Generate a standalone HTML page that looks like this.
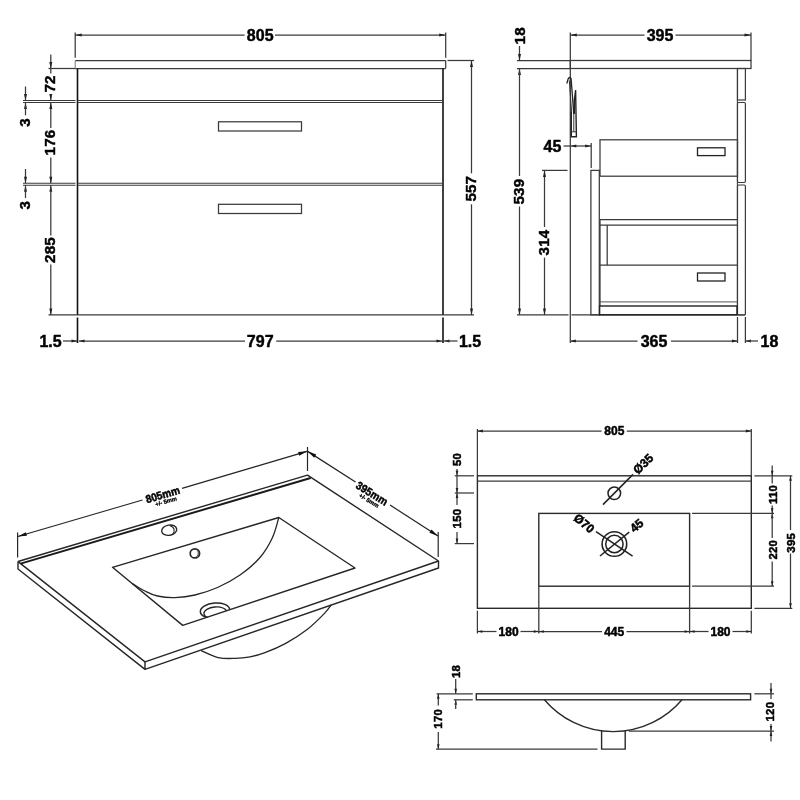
<!DOCTYPE html>
<html><head><meta charset="utf-8"><title>Vanity unit technical drawing</title>
<style>
html,body{margin:0;padding:0;background:#fff;}
svg{display:block;font-family:"Liberation Sans",sans-serif;fill:#000;}
</style></head><body>
<svg width="800" height="800" viewBox="0 0 800 800">
<rect width="800" height="800" fill="#fff"/>
<g id="front-side" opacity="0.999">
<line x1="75.2" y1="32.5" x2="75.2" y2="57.8" stroke="#3a3a3a" stroke-width="1.25"/>
<line x1="445.7" y1="32.5" x2="445.7" y2="57.8" stroke="#3a3a3a" stroke-width="1.25"/>
<line x1="75.2" y1="35" x2="244.6" y2="35" stroke="#3a3a3a" stroke-width="1.25"/>
<line x1="275" y1="35" x2="445.7" y2="35" stroke="#3a3a3a" stroke-width="1.25"/>
<polygon points="75.20,35.00 81.70,33.50 81.70,36.50" fill="#222"/>
<polygon points="445.70,35.00 439.20,36.50 439.20,33.50" fill="#222"/>
<text x="260.2" y="35" font-size="16" text-anchor="middle" dominant-baseline="central" font-weight="bold" stroke="#000" stroke-width="0.45">805</text>
<line x1="75.2" y1="60.5" x2="445.7" y2="60.5" stroke="#3a3a3a" stroke-width="1.25"/>
<line x1="75.2" y1="68.5" x2="445.7" y2="68.5" stroke="#3a3a3a" stroke-width="1.25"/>
<line x1="75.2" y1="60.5" x2="75.2" y2="68.5" stroke="#777" stroke-width="1"/>
<line x1="445.7" y1="60.5" x2="445.7" y2="68.5" stroke="#3a3a3a" stroke-width="1.25"/>
<line x1="77.5" y1="68.5" x2="77.5" y2="315" stroke="#111" stroke-width="1.6"/>
<line x1="443" y1="68.5" x2="443" y2="315" stroke="#111" stroke-width="1.6"/>
<line x1="77.5" y1="317.5" x2="77.5" y2="343" stroke="#111" stroke-width="1.6"/>
<line x1="443" y1="317.5" x2="443" y2="343" stroke="#111" stroke-width="1.6"/>
<line x1="48.5" y1="314.8" x2="474" y2="314.8" stroke="#3a3a3a" stroke-width="1.25"/>
<line x1="23" y1="100.5" x2="75.5" y2="100.5" stroke="#3a3a3a" stroke-width="1.1"/>
<line x1="77.5" y1="100.5" x2="443" y2="100.5" stroke="#3a3a3a" stroke-width="1.1"/>
<line x1="23" y1="102.5" x2="75.5" y2="102.5" stroke="#3a3a3a" stroke-width="1.1"/>
<line x1="77.5" y1="102.5" x2="443" y2="102.5" stroke="#3a3a3a" stroke-width="1.1"/>
<line x1="23" y1="183.2" x2="75.5" y2="183.2" stroke="#3a3a3a" stroke-width="1.1"/>
<line x1="77.5" y1="183.2" x2="443" y2="183.2" stroke="#3a3a3a" stroke-width="1.1"/>
<line x1="23" y1="185.2" x2="75.5" y2="185.2" stroke="#3a3a3a" stroke-width="1.1"/>
<line x1="77.5" y1="185.2" x2="443" y2="185.2" stroke="#3a3a3a" stroke-width="1.1"/>
<rect x="218.5" y="121.8" width="83" height="9.2" rx="0" fill="none" stroke="#3a3a3a" stroke-width="1.25"/>
<rect x="218.5" y="204.3" width="83" height="9.2" rx="0" fill="none" stroke="#3a3a3a" stroke-width="1.25"/>
<line x1="48.5" y1="68.5" x2="75.2" y2="68.5" stroke="#3a3a3a" stroke-width="1.25"/>
<line x1="50.8" y1="54.5" x2="50.8" y2="68.5" stroke="#3a3a3a" stroke-width="1.25"/>
<polygon points="50.80,68.50 49.30,62.00 52.30,62.00" fill="#222"/>
<line x1="50.8" y1="68.5" x2="50.8" y2="73.5" stroke="#3a3a3a" stroke-width="1.25"/>
<line x1="50.8" y1="94.5" x2="50.8" y2="100.5" stroke="#3a3a3a" stroke-width="1.25"/>
<text x="49.6" y="84" font-size="15.2" text-anchor="middle" dominant-baseline="central" font-weight="bold" stroke="#000" stroke-width="0.45" transform="rotate(-90 49.6 84)" letter-spacing="0.15">72</text>
<polygon points="50.80,100.50 49.30,94.00 52.30,94.00" fill="#222"/>
<line x1="50.8" y1="102.5" x2="50.8" y2="128" stroke="#3a3a3a" stroke-width="1.25"/>
<polygon points="50.80,102.50 52.30,109.00 49.30,109.00" fill="#222"/>
<line x1="50.8" y1="157.5" x2="50.8" y2="183.2" stroke="#3a3a3a" stroke-width="1.25"/>
<polygon points="50.80,183.20 49.30,176.70 52.30,176.70" fill="#222"/>
<text x="49.6" y="142.5" font-size="15.2" text-anchor="middle" dominant-baseline="central" font-weight="bold" stroke="#000" stroke-width="0.45" transform="rotate(-90 49.6 142.5)" letter-spacing="0.15">176</text>
<polygon points="50.80,185.20 52.30,191.70 49.30,191.70" fill="#222"/>
<line x1="50.8" y1="185.2" x2="50.8" y2="235.5" stroke="#3a3a3a" stroke-width="1.25"/>
<line x1="50.8" y1="264.5" x2="50.8" y2="315" stroke="#3a3a3a" stroke-width="1.25"/>
<polygon points="50.80,315.00 49.30,308.50 52.30,308.50" fill="#222"/>
<text x="49.6" y="250" font-size="15.2" text-anchor="middle" dominant-baseline="central" font-weight="bold" stroke="#000" stroke-width="0.45" transform="rotate(-90 49.6 250)" letter-spacing="0.15">285</text>
<line x1="25.5" y1="86.5" x2="25.5" y2="100.5" stroke="#3a3a3a" stroke-width="1.25"/>
<polygon points="25.50,100.50 24.00,94.00 27.00,94.00" fill="#222"/>
<polygon points="25.50,102.50 27.00,109.00 24.00,109.00" fill="#222"/>
<line x1="25.5" y1="102.5" x2="25.5" y2="115.3" stroke="#3a3a3a" stroke-width="1.25"/>
<text x="24.8" y="122.5" font-size="15.2" text-anchor="middle" dominant-baseline="central" font-weight="bold" stroke="#000" stroke-width="0.45" transform="rotate(-90 24.8 122.5)" letter-spacing="0.15">3</text>
<line x1="25.5" y1="169" x2="25.5" y2="183.2" stroke="#3a3a3a" stroke-width="1.25"/>
<polygon points="25.50,183.20 24.00,176.70 27.00,176.70" fill="#222"/>
<polygon points="25.50,185.20 27.00,191.70 24.00,191.70" fill="#222"/>
<line x1="25.5" y1="185.2" x2="25.5" y2="198" stroke="#3a3a3a" stroke-width="1.25"/>
<text x="24.8" y="205.3" font-size="15.2" text-anchor="middle" dominant-baseline="central" font-weight="bold" stroke="#000" stroke-width="0.45" transform="rotate(-90 24.8 205.3)" letter-spacing="0.15">3</text>
<text x="50.5" y="341" font-size="16" text-anchor="middle" dominant-baseline="central" font-weight="bold" stroke="#000" stroke-width="0.45">1.5</text>
<line x1="63" y1="341" x2="77" y2="341" stroke="#3a3a3a" stroke-width="1.25"/>
<polygon points="77.00,341.00 71.50,342.50 71.50,339.50" fill="#222"/>
<line x1="79" y1="341" x2="245" y2="341" stroke="#3a3a3a" stroke-width="1.25"/>
<polygon points="79.00,341.00 84.50,339.50 84.50,342.50" fill="#222"/>
<line x1="276.2" y1="341" x2="442" y2="341" stroke="#3a3a3a" stroke-width="1.25"/>
<polygon points="442.00,341.00 436.50,342.50 436.50,339.50" fill="#222"/>
<text x="260.2" y="341" font-size="16" text-anchor="middle" dominant-baseline="central" font-weight="bold" stroke="#000" stroke-width="0.45">797</text>
<polygon points="444.00,341.00 449.50,339.50 449.50,342.50" fill="#222"/>
<line x1="444" y1="341" x2="457.5" y2="341" stroke="#3a3a3a" stroke-width="1.25"/>
<text x="470" y="341" font-size="16" text-anchor="middle" dominant-baseline="central" font-weight="bold" stroke="#000" stroke-width="0.45">1.5</text>
<line x1="447.5" y1="60.5" x2="474" y2="60.5" stroke="#3a3a3a" stroke-width="1.25"/>
<line x1="471.5" y1="60.5" x2="471.5" y2="173.3" stroke="#3a3a3a" stroke-width="1.25"/>
<line x1="471.5" y1="204.3" x2="471.5" y2="315" stroke="#3a3a3a" stroke-width="1.25"/>
<polygon points="471.50,60.50 473.00,67.00 470.00,67.00" fill="#222"/>
<polygon points="471.50,315.00 470.00,308.50 473.00,308.50" fill="#222"/>
<text x="470.8" y="188.7" font-size="15.2" text-anchor="middle" dominant-baseline="central" font-weight="bold" stroke="#000" stroke-width="0.45" transform="rotate(-90 470.8 188.7)" letter-spacing="0.15">557</text>
<line x1="570.3" y1="32.5" x2="570.3" y2="343" stroke="#3a3a3a" stroke-width="1.25"/>
<line x1="751" y1="32.5" x2="751" y2="60.5" stroke="#3a3a3a" stroke-width="1.25"/>
<line x1="570.3" y1="35" x2="644.5" y2="35" stroke="#3a3a3a" stroke-width="1.25"/>
<line x1="675.5" y1="35" x2="751" y2="35" stroke="#3a3a3a" stroke-width="1.25"/>
<polygon points="570.30,35.00 576.80,33.50 576.80,36.50" fill="#222"/>
<polygon points="751.00,35.00 744.50,36.50 744.50,33.50" fill="#222"/>
<text x="660" y="35" font-size="16" text-anchor="middle" dominant-baseline="central" font-weight="bold" stroke="#000" stroke-width="0.45">395</text>
<rect x="570.3" y="60.5" width="180.7" height="8" rx="0" fill="none" stroke="#3a3a3a" stroke-width="1.25"/>
<line x1="517" y1="60.5" x2="570.3" y2="60.5" stroke="#3a3a3a" stroke-width="1.25"/>
<line x1="517" y1="68.5" x2="570.3" y2="68.5" stroke="#3a3a3a" stroke-width="1.25"/>
<text x="519.1" y="35.8" font-size="15.2" text-anchor="middle" dominant-baseline="central" font-weight="bold" stroke="#000" stroke-width="0.45" transform="rotate(-90 519.1 35.8)" letter-spacing="0.15">18</text>
<line x1="519.5" y1="46" x2="519.5" y2="60.5" stroke="#3a3a3a" stroke-width="1.25"/>
<polygon points="519.50,60.50 518.00,54.00 521.00,54.00" fill="#222"/>
<polygon points="519.50,68.50 521.00,75.00 518.00,75.00" fill="#222"/>
<line x1="519.5" y1="68.5" x2="519.5" y2="176" stroke="#3a3a3a" stroke-width="1.25"/>
<line x1="519.5" y1="206.5" x2="519.5" y2="315" stroke="#3a3a3a" stroke-width="1.25"/>
<polygon points="519.50,315.00 518.00,308.50 521.00,308.50" fill="#222"/>
<text x="518.8" y="191.6" font-size="15.2" text-anchor="middle" dominant-baseline="central" font-weight="bold" stroke="#000" stroke-width="0.45" transform="rotate(-90 518.8 191.6)" letter-spacing="0.15">539</text>
<line x1="517" y1="314.8" x2="568.5" y2="314.8" stroke="#3a3a3a" stroke-width="1.25"/>
<line x1="571.5" y1="314.8" x2="745.4" y2="314.8" stroke="#3a3a3a" stroke-width="1.25"/>
<line x1="542" y1="170.4" x2="567.5" y2="170.4" stroke="#3a3a3a" stroke-width="1.25"/>
<line x1="544.5" y1="170.4" x2="544.5" y2="227" stroke="#3a3a3a" stroke-width="1.25"/>
<line x1="544.5" y1="257.6" x2="544.5" y2="315" stroke="#3a3a3a" stroke-width="1.25"/>
<polygon points="544.50,170.40 546.00,176.90 543.00,176.90" fill="#222"/>
<polygon points="544.50,315.00 543.00,308.50 546.00,308.50" fill="#222"/>
<text x="543.8" y="242.5" font-size="15.2" text-anchor="middle" dominant-baseline="central" font-weight="bold" stroke="#000" stroke-width="0.45" transform="rotate(-90 543.8 242.5)" letter-spacing="0.15">314</text>
<text x="552.5" y="146.3" font-size="16" text-anchor="middle" dominant-baseline="central" font-weight="bold" stroke="#000" stroke-width="0.45">45</text>
<line x1="563.5" y1="146" x2="591.2" y2="146" stroke="#3a3a3a" stroke-width="1.25"/>
<polygon points="570.80,146.00 576.30,144.50 576.30,147.50" fill="#222"/>
<polygon points="590.70,146.00 585.20,147.50 585.20,144.50" fill="#222"/>
<line x1="591.2" y1="143" x2="591.2" y2="168" stroke="#3a3a3a" stroke-width="1.25"/>
<path d="M566.8,83.5 L568.2,78.8 Q569.6,76.3 571.1,78.6 L573.8,114" fill="none" stroke="#222" stroke-width="1.3"/>
<path d="M569.3,80.5 L571.6,112" fill="none" stroke="#333" stroke-width="1"/>
<path d="M575.6,90 L574.3,101 L574.3,114 M575.6,90 L576.4,136.8 L571.3,136.8 L571.3,112" fill="none" stroke="#222" stroke-width="1.4"/>
<path d="M573.8,114 L573.8,131.5 M571.3,131.8 L576.3,131.8" fill="none" stroke="#333" stroke-width="1"/>
<rect x="590.9" y="170.4" width="8.4" height="144.4" rx="0" fill="none" stroke="#3a3a3a" stroke-width="1.25"/>
<line x1="737.4" y1="68.5" x2="737.4" y2="314.8" stroke="#3a3a3a" stroke-width="1.1"/>
<rect x="737.5" y="68.5" width="7.9" height="31.5" rx="0" fill="none" stroke="#3a3a3a" stroke-width="1.2"/>
<rect x="737.5" y="102.5" width="7.9" height="80" rx="1.2" fill="none" stroke="#3a3a3a" stroke-width="1.2"/>
<rect x="737.5" y="185" width="7.9" height="130" rx="1.2" fill="none" stroke="#3a3a3a" stroke-width="1.2"/>
<rect x="600" y="139.8" width="137.5" height="36.4" rx="0" fill="none" stroke="#3a3a3a" stroke-width="1.25"/>
<rect x="697.5" y="147.8" width="27.5" height="7.8" rx="0" fill="none" stroke="#222" stroke-width="1.3"/>
<line x1="600" y1="219.5" x2="737.5" y2="219.5" stroke="#3a3a3a" stroke-width="1.25"/>
<line x1="600" y1="225" x2="737.5" y2="225" stroke="#3a3a3a" stroke-width="1.25"/>
<line x1="600" y1="219.5" x2="600" y2="306" stroke="#3a3a3a" stroke-width="1.25"/>
<line x1="607.2" y1="225" x2="607.2" y2="265.2" stroke="#3a3a3a" stroke-width="1.25"/>
<line x1="599.5" y1="265.2" x2="737.5" y2="265.2" stroke="#3a3a3a" stroke-width="1.25"/>
<rect x="697.5" y="273" width="27.5" height="8" rx="0" fill="none" stroke="#222" stroke-width="1.3"/>
<line x1="600" y1="301.9" x2="737.5" y2="301.9" stroke="#555" stroke-width="1"/>
<rect x="599.6" y="306" width="137.4" height="8.8" rx="0" fill="none" stroke="#222" stroke-width="1.4"/>
<line x1="737.5" y1="317" x2="737.5" y2="343" stroke="#3a3a3a" stroke-width="1.25"/>
<line x1="745.4" y1="317" x2="745.4" y2="343" stroke="#3a3a3a" stroke-width="1.25"/>
<line x1="570.3" y1="341" x2="637.5" y2="341" stroke="#3a3a3a" stroke-width="1.25"/>
<polygon points="570.30,341.00 575.80,339.50 575.80,342.50" fill="#222"/>
<line x1="671" y1="341" x2="737.5" y2="341" stroke="#3a3a3a" stroke-width="1.25"/>
<polygon points="737.50,341.00 732.00,342.50 732.00,339.50" fill="#222"/>
<text x="654" y="341" font-size="16" text-anchor="middle" dominant-baseline="central" font-weight="bold" stroke="#000" stroke-width="0.45">365</text>
<polygon points="745.40,341.00 750.90,339.50 750.90,342.50" fill="#222"/>
<line x1="745.4" y1="341" x2="758" y2="341" stroke="#3a3a3a" stroke-width="1.25"/>
<text x="769.5" y="341" font-size="16" text-anchor="middle" dominant-baseline="central" font-weight="bold" stroke="#000" stroke-width="0.45">18</text>
</g>
<g id="basin" opacity="0.999">
<path d="M18,561.5 L307.5,475.2 L438.5,561 L145,661.9 L20.6,563.6 L18,561.5" fill="none" stroke="#262626" stroke-width="1.4" stroke-linejoin="round"/>
<path d="M20.6,563.6 L310.6,478" fill="none" stroke="#1a1a1a" stroke-width="1.9"/>
<path d="M18,561.5 L18,569 L145,669.4 L438.5,568 L438.5,561 M145,661.9 L145,669.4" fill="none" stroke="#262626" stroke-width="1.4" stroke-linejoin="round"/>
<path d="M112.5,567.3 L278.8,517.5 L355,568 L182.7,625.4 Z" fill="none" stroke="#262626" stroke-width="1.4" stroke-linejoin="round"/>
<path d="M278.8,517.5 C277.8,520.8 275.6,530.8 272.5,537.5 C269.4,544.2 265.4,551.2 260.0,557.5 C254.6,563.8 247.1,570.0 240.0,575.0 C232.9,580.0 225.0,584.2 217.5,587.5 C210.0,590.8 202.1,593.3 195.0,595.0 C187.9,596.7 181.2,597.4 175.0,597.6 C168.8,597.8 162.5,597.1 157.5,596.0 C152.5,594.9 149.2,593.1 145.0,591.0 C140.8,588.9 134.6,584.8 132.5,583.6" fill="none" stroke="#262626" stroke-width="1.3"/>
<ellipse cx="169.2" cy="530.2" rx="7.6" ry="5.1" fill="none" stroke="#262626" stroke-width="1.4" transform="rotate(-10 169.2 530.2)"/>
<path d="M170,525.8 C174.5,527 175.5,531 172.5,534.3" fill="none" stroke="#262626" stroke-width="1.1"/>
<ellipse cx="194.9" cy="553.4" rx="4.7" ry="4.5" fill="none" stroke="#262626" stroke-width="1.7"/>
<path d="M197.3,550.5 C199,553 198.3,556 195.5,557.3" fill="none" stroke="#262626" stroke-width="0.9"/>
<clipPath id="dc"><polygon points="112.5,567.3 278.8,517.5 355,568 182.7,625.4"/></clipPath>
<g clip-path="url(#dc)">
<ellipse cx="215" cy="610.6" rx="14.7" ry="7.6" fill="none" stroke="#262626" stroke-width="1.5" transform="rotate(-5 215 610.6)"/>
<ellipse cx="215.3" cy="612.8" rx="11.4" ry="5.8" fill="none" stroke="#262626" stroke-width="1.3" transform="rotate(-5 215.3 612.8)"/>
</g>
<path d="M201.2,650.6 C204.0,651.8 212.5,656.3 218.2,657.6 C223.9,658.9 229.9,658.5 235.2,658.4 C240.5,658.3 245.1,657.8 250.1,656.9 C255.1,656.0 259.0,655.0 265.0,652.7 C271.0,650.4 279.1,647.0 286.2,643.1 C293.3,639.2 301.1,634.2 307.5,629.3 C313.9,624.3 320.5,617.5 324.5,613.4 C328.5,609.3 330.2,606.3 331.3,604.9" fill="none" stroke="#262626" stroke-width="1.3"/>
<line x1="17.6" y1="532.5" x2="17.6" y2="557.5" stroke="#262626" stroke-width="1.2"/>
<line x1="307.5" y1="447" x2="307.5" y2="471" stroke="#262626" stroke-width="1.2"/>
<line x1="438.2" y1="532" x2="438.2" y2="557" stroke="#262626" stroke-width="1.2"/>
<line x1="17.8" y1="536.5" x2="142.5" y2="500" stroke="#262626" stroke-width="1.3"/>
<line x1="182" y1="488.3" x2="307" y2="451.4" stroke="#262626" stroke-width="1.3"/>
<polygon points="17.80,536.50 25.90,532.14 26.97,535.78" fill="#111"/>
<polygon points="307.30,451.30 299.20,455.66 298.13,452.02" fill="#111"/>
<line x1="307.7" y1="451.4" x2="355.5" y2="482" stroke="#262626" stroke-width="1.3"/>
<line x1="390" y1="505" x2="438" y2="536" stroke="#262626" stroke-width="1.3"/>
<polygon points="307.70,451.30 316.28,454.61 314.21,457.80" fill="#111"/>
<polygon points="438.00,536.00 429.42,532.69 431.49,529.50" fill="#111"/>
<text x="162.7" y="494.5" font-size="11.2" text-anchor="middle" dominant-baseline="central" font-weight="bold" stroke="#000" stroke-width="0.50" transform="rotate(-16.4 162.7 494.5)" textLength="35" lengthAdjust="spacingAndGlyphs">805mm</text>
<text x="166" y="501.4" font-size="5.8" text-anchor="middle" dominant-baseline="central" font-weight="bold" stroke="#000" stroke-width="0.30" transform="rotate(-16.4 166 501.4)">+/- 5mm</text>
<text x="372" y="493.3" font-size="11.2" text-anchor="middle" dominant-baseline="central" font-weight="bold" stroke="#000" stroke-width="0.50" transform="rotate(31.5 372 493.3)" textLength="35" lengthAdjust="spacingAndGlyphs">395mm</text>
<text x="369" y="500.5" font-size="5.8" text-anchor="middle" dominant-baseline="central" font-weight="bold" stroke="#000" stroke-width="0.30" transform="rotate(31.5 369 500.5)">+/- 5mm</text>
<rect x="477.4" y="475.8" width="273.9" height="132.5" rx="0" fill="none" stroke="#2a2a2a" stroke-width="1.4"/>
<line x1="477.4" y1="481.2" x2="751.3" y2="481.2" stroke="#3a3a3a" stroke-width="1.3"/>
<line x1="477.4" y1="429" x2="477.4" y2="475.8" stroke="#3a3a3a" stroke-width="1.25"/>
<line x1="751.3" y1="429" x2="751.3" y2="475.8" stroke="#3a3a3a" stroke-width="1.25"/>
<line x1="477.4" y1="431" x2="601.6" y2="431" stroke="#3a3a3a" stroke-width="1.25"/>
<line x1="626.8" y1="431" x2="751.3" y2="431" stroke="#3a3a3a" stroke-width="1.25"/>
<polygon points="477.40,431.00 482.90,429.60 482.90,432.40" fill="#222"/>
<polygon points="751.30,431.00 745.80,432.40 745.80,429.60" fill="#222"/>
<text x="614.3" y="431" font-size="12" text-anchor="middle" dominant-baseline="central" font-weight="bold" stroke="#000" stroke-width="0.50">805</text>
<rect x="538.8" y="513.4" width="150.8" height="72.8" rx="0" fill="none" stroke="#2a2a2a" stroke-width="1.4"/>
<circle cx="614.3" cy="493.3" r="6.3" fill="none" stroke="#222" stroke-width="1.5"/>
<line x1="603" y1="504.6" x2="633" y2="474.4" stroke="#222" stroke-width="1.5"/>
<text x="643.3" y="464" font-size="12" text-anchor="middle" dominant-baseline="central" font-weight="bold" stroke="#000" stroke-width="0.50" transform="rotate(-45 643.3 464)">Ø35</text>
<circle cx="614.4" cy="544" r="12.3" fill="none" stroke="#222" stroke-width="1.6"/>
<circle cx="614.4" cy="544" r="8.7" fill="none" stroke="#222" stroke-width="1.5"/>
<line x1="600" y1="556" x2="629.2" y2="532.2" stroke="#222" stroke-width="1.5"/>
<line x1="596" y1="531.6" x2="632.6" y2="556.2" stroke="#222" stroke-width="1.5"/>
<text x="584" y="523.5" font-size="12" text-anchor="middle" dominant-baseline="central" font-weight="bold" stroke="#000" stroke-width="0.50" transform="rotate(40 584 523.5)">Ø70</text>
<text x="636.8" y="525.6" font-size="12" text-anchor="middle" dominant-baseline="central" font-weight="bold" stroke="#000" stroke-width="0.50" transform="rotate(-40 636.8 525.6)">45</text>
<line x1="454.8" y1="475.8" x2="474" y2="475.8" stroke="#3a3a3a" stroke-width="1.25"/>
<line x1="454.8" y1="493" x2="474" y2="493" stroke="#3a3a3a" stroke-width="1.25"/>
<line x1="454.8" y1="543.6" x2="474" y2="543.6" stroke="#3a3a3a" stroke-width="1.25"/>
<line x1="457" y1="469" x2="457" y2="475.8" stroke="#3a3a3a" stroke-width="1.25"/>
<polygon points="457.00,475.80 455.70,470.80 458.30,470.80" fill="#222"/>
<line x1="457" y1="475.8" x2="457" y2="505" stroke="#3a3a3a" stroke-width="1.25"/>
<line x1="457" y1="532" x2="457" y2="543.6" stroke="#3a3a3a" stroke-width="1.25"/>
<polygon points="457.00,493.00 458.30,498.00 455.70,498.00" fill="#222"/>
<polygon points="457.00,493.00 455.70,488.00 458.30,488.00" fill="#222"/>
<polygon points="457.00,543.60 455.70,538.60 458.30,538.60" fill="#222"/>
<text x="457.2" y="459.5" font-size="11.4" text-anchor="middle" dominant-baseline="central" font-weight="bold" stroke="#000" stroke-width="0.50" transform="rotate(-90 457.2 459.5)" letter-spacing="0.25">50</text>
<text x="457.2" y="518.5" font-size="11.4" text-anchor="middle" dominant-baseline="central" font-weight="bold" stroke="#000" stroke-width="0.50" transform="rotate(-90 457.2 518.5)" letter-spacing="0.25">150</text>
<line x1="692" y1="513.3" x2="774" y2="513.3" stroke="#3a3a3a" stroke-width="1.25"/>
<line x1="692" y1="586.2" x2="774" y2="586.2" stroke="#3a3a3a" stroke-width="1.25"/>
<line x1="754.4" y1="475.8" x2="792.3" y2="475.8" stroke="#3a3a3a" stroke-width="1.25"/>
<line x1="754.4" y1="608.3" x2="792.3" y2="608.3" stroke="#3a3a3a" stroke-width="1.25"/>
<line x1="772.2" y1="465.5" x2="772.2" y2="483.5" stroke="#3a3a3a" stroke-width="1.25"/>
<polygon points="772.20,475.80 770.90,470.80 773.50,470.80" fill="#222"/>
<line x1="772.2" y1="505.5" x2="772.2" y2="513.3" stroke="#3a3a3a" stroke-width="1.25"/>
<polygon points="772.20,513.30 770.90,508.30 773.50,508.30" fill="#222"/>
<polygon points="772.20,513.30 773.50,518.30 770.90,518.30" fill="#222"/>
<line x1="772.2" y1="513.3" x2="772.2" y2="538" stroke="#3a3a3a" stroke-width="1.25"/>
<line x1="772.2" y1="561.5" x2="772.2" y2="586.2" stroke="#3a3a3a" stroke-width="1.25"/>
<polygon points="772.20,586.20 770.90,581.20 773.50,581.20" fill="#222"/>
<text x="772.7" y="494.5" font-size="11.4" text-anchor="middle" dominant-baseline="central" font-weight="bold" stroke="#000" stroke-width="0.50" transform="rotate(-90 772.7 494.5)" letter-spacing="0.25">110</text>
<text x="772.7" y="549.7" font-size="11.4" text-anchor="middle" dominant-baseline="central" font-weight="bold" stroke="#000" stroke-width="0.50" transform="rotate(-90 772.7 549.7)" letter-spacing="0.25">220</text>
<line x1="790.5" y1="475.8" x2="790.5" y2="530" stroke="#3a3a3a" stroke-width="1.25"/>
<line x1="790.5" y1="553.5" x2="790.5" y2="608.3" stroke="#3a3a3a" stroke-width="1.25"/>
<polygon points="790.50,475.80 791.80,480.80 789.20,480.80" fill="#222"/>
<polygon points="790.50,608.30 789.20,603.30 791.80,603.30" fill="#222"/>
<text x="790.9" y="542.8" font-size="11.4" text-anchor="middle" dominant-baseline="central" font-weight="bold" stroke="#000" stroke-width="0.50" transform="rotate(-90 790.9 542.8)" letter-spacing="0.25">395</text>
<line x1="477.4" y1="610.7" x2="477.4" y2="633.5" stroke="#3a3a3a" stroke-width="1.25"/>
<line x1="751.3" y1="610.7" x2="751.3" y2="633.5" stroke="#3a3a3a" stroke-width="1.25"/>
<line x1="538.8" y1="586.2" x2="538.8" y2="633.5" stroke="#3a3a3a" stroke-width="1.3"/>
<line x1="689.6" y1="586.2" x2="689.6" y2="633.5" stroke="#3a3a3a" stroke-width="1.3"/>
<line x1="477.4" y1="631.5" x2="496.5" y2="631.5" stroke="#3a3a3a" stroke-width="1.25"/>
<line x1="520.5" y1="631.5" x2="538.8" y2="631.5" stroke="#3a3a3a" stroke-width="1.25"/>
<polygon points="477.40,631.50 482.40,630.20 482.40,632.80" fill="#222"/>
<polygon points="538.80,631.50 533.80,632.80 533.80,630.20" fill="#222"/>
<line x1="538.8" y1="631.5" x2="602" y2="631.5" stroke="#3a3a3a" stroke-width="1.25"/>
<line x1="626.5" y1="631.5" x2="689.6" y2="631.5" stroke="#3a3a3a" stroke-width="1.25"/>
<polygon points="538.80,631.50 543.80,630.20 543.80,632.80" fill="#222"/>
<polygon points="689.60,631.50 684.60,632.80 684.60,630.20" fill="#222"/>
<line x1="689.6" y1="631.5" x2="708.5" y2="631.5" stroke="#3a3a3a" stroke-width="1.25"/>
<line x1="732.5" y1="631.5" x2="751.3" y2="631.5" stroke="#3a3a3a" stroke-width="1.25"/>
<polygon points="689.60,631.50 694.60,630.20 694.60,632.80" fill="#222"/>
<polygon points="751.30,631.50 746.30,632.80 746.30,630.20" fill="#222"/>
<text x="508.6" y="631.5" font-size="12" text-anchor="middle" dominant-baseline="central" font-weight="bold" stroke="#000" stroke-width="0.50">180</text>
<text x="614.2" y="631.5" font-size="12" text-anchor="middle" dominant-baseline="central" font-weight="bold" stroke="#000" stroke-width="0.50">445</text>
<text x="720.5" y="631.5" font-size="12" text-anchor="middle" dominant-baseline="central" font-weight="bold" stroke="#000" stroke-width="0.50">180</text>
<rect x="476.3" y="693.8" width="274.3" height="6" rx="0" fill="none" stroke="#2a2a2a" stroke-width="1.4"/>
<path d="M544.4,699.8 A90.3,90.3 0 0 0 682,699.8" fill="none" stroke="#2a2a2a" stroke-width="1.4"/>
<path d="M601.6,730.8 L601.6,749.1 L625.2,749.1 L625.2,730.8" fill="none" stroke="#2a2a2a" stroke-width="1.4"/>
<text x="456.1" y="671.5" font-size="11.4" text-anchor="middle" dominant-baseline="central" font-weight="bold" stroke="#000" stroke-width="0.50" transform="rotate(-90 456.1 671.5)" letter-spacing="0.25">18</text>
<line x1="455.7" y1="679" x2="455.7" y2="693.8" stroke="#3a3a3a" stroke-width="1.25"/>
<polygon points="455.70,693.80 454.40,688.80 457.00,688.80" fill="#222"/>
<polygon points="455.70,699.80 457.00,704.80 454.40,704.80" fill="#222"/>
<line x1="455.7" y1="699.8" x2="455.7" y2="709" stroke="#3a3a3a" stroke-width="1.25"/>
<line x1="436.6" y1="693.8" x2="472.8" y2="693.8" stroke="#3a3a3a" stroke-width="1.25"/>
<line x1="453.8" y1="699.8" x2="472.8" y2="699.8" stroke="#3a3a3a" stroke-width="1.25"/>
<line x1="438.3" y1="693.8" x2="438.3" y2="705.5" stroke="#3a3a3a" stroke-width="1.25"/>
<line x1="438.3" y1="732" x2="438.3" y2="749.2" stroke="#3a3a3a" stroke-width="1.25"/>
<polygon points="438.30,693.80 439.60,698.80 437.00,698.80" fill="#222"/>
<polygon points="438.30,749.20 437.00,744.20 439.60,744.20" fill="#222"/>
<text x="438.4" y="718.8" font-size="11.4" text-anchor="middle" dominant-baseline="central" font-weight="bold" stroke="#000" stroke-width="0.50" transform="rotate(-90 438.4 718.8)" letter-spacing="0.25">170</text>
<line x1="436" y1="749.2" x2="597.5" y2="749.2" stroke="#3a3a3a" stroke-width="1.25"/>
<line x1="754.4" y1="693.8" x2="774" y2="693.8" stroke="#3a3a3a" stroke-width="1.25"/>
<line x1="628.8" y1="731" x2="774" y2="731" stroke="#3a3a3a" stroke-width="1.25"/>
<line x1="771" y1="683" x2="771" y2="693.8" stroke="#3a3a3a" stroke-width="1.25"/>
<polygon points="771.00,693.80 769.70,688.80 772.30,688.80" fill="#222"/>
<line x1="771" y1="693.8" x2="771" y2="699" stroke="#3a3a3a" stroke-width="1.25"/>
<line x1="771" y1="724" x2="771" y2="731" stroke="#3a3a3a" stroke-width="1.25"/>
<polygon points="771.00,731.00 769.70,726.00 772.30,726.00" fill="#222"/>
<line x1="771" y1="731" x2="771" y2="741.5" stroke="#3a3a3a" stroke-width="1.25"/>
<polygon points="771.00,731.00 772.30,736.00 769.70,736.00" fill="#222"/>
<text x="770.2" y="711.6" font-size="11.4" text-anchor="middle" dominant-baseline="central" font-weight="bold" stroke="#000" stroke-width="0.50" transform="rotate(-90 770.2 711.6)" letter-spacing="0.25">120</text>
</g>
</svg>
</body></html>
